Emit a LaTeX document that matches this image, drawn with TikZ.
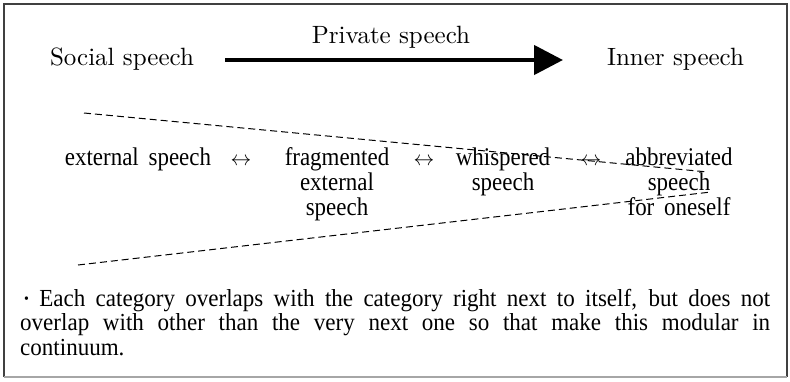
\documentclass[tikz,border=0pt]{standalone}
\usepackage{fontspec}
\usetikzlibrary{arrows.meta}
\newfontfamily\bodyfont[FakeStretch=0.9,WordSpace=1.7]{Liberation Serif}
\newfontfamily\notefont[FakeStretch=0.94]{Liberation Serif}
\newfontfamily\headfont{lmroman10-regular}[Extension=.otf]
\tikzset{
  head/.style={font=\headfont\fontsize{25}{30}\selectfont, inner sep=0pt, anchor=base},
  cat/.style={font=\bodyfont\fontsize{25.5}{25}\selectfont, inner sep=0pt, anchor=base, align=center},
  catm/.style={font=\bodyfont\fontsize{25.5}{25}\selectfont, inner sep=0pt, anchor=north, align=center},
  lr/.style={font=\fontsize{22}{25}\selectfont, inner sep=0pt, anchor=base},
  bigarrow/.style={line width=4.5pt, -{Triangle[length=29pt,width=29pt]}},
  dashline/.style={line width=1pt, dash pattern=on 7pt off 4pt},
  frameline/.style={line width=1.5pt}
}
\begin{document}
\begin{tikzpicture}[x=1pt,y=-1pt]
\useasboundingbox (0,0) rectangle (790,381);
% frame
\draw[frameline, black!75] (4,377) -- (4,4) -- (787,4) -- (787,377);
\draw[frameline, black!35] (4,377) -- (787,377);
% header
\node[head] (soc) at (122,65) {Social speech};
\node[head] (inner) at (675.5,65) {Inner speech};
\coordinate (a1) at (225,60);
\coordinate (a2) at (563,60);
\draw[bigarrow] (a1) -- (a2);
\node[head] (priv) at (391,43) {Private speech};
% dashed wedge
\coordinate (u1) at (84,113);
\coordinate (u2) at (708,172);
\coordinate (l1) at (78,265);
\coordinate (l2) at (711,192);
\draw[dashline] (u1) -- (u2);
\draw[dashline] (l1) -- (l2);
% categories
\node[cat] (ext) at (138,165) {external speech};
\node[lr] (lr1) at (241,165) {$\leftrightarrow$};
\node[catm] (frag) at (337,147.6) {fragmented\\external\\speech};
\node[lr] (lr2) at (424,165) {$\leftrightarrow$};
\node[catm] (whis) at (503,147.6) {whispered\\speech};
\node[lr] (lr3) at (591,165) {$\leftrightarrow$};
\node[catm] (abbr) at (679,147.6) {abbreviated\\speech\\for oneself};
% note
\node[inner sep=0pt, anchor=base west, font=\notefont\fontsize{24.5}{24.5}\selectfont] (note) at (20,306)
  {\parbox[t]{750pt}{\makebox[750pt][s]{\hspace{4pt}\raisebox{2.5pt}{\scalebox{0.6}{\textbullet}}\ Each category overlaps with the category right next to itself, but does not}\\
  \makebox[750pt][s]{overlap with other than the very next one so that make this modular in}\\
  continuum.}};
\end{tikzpicture}
\end{document}
